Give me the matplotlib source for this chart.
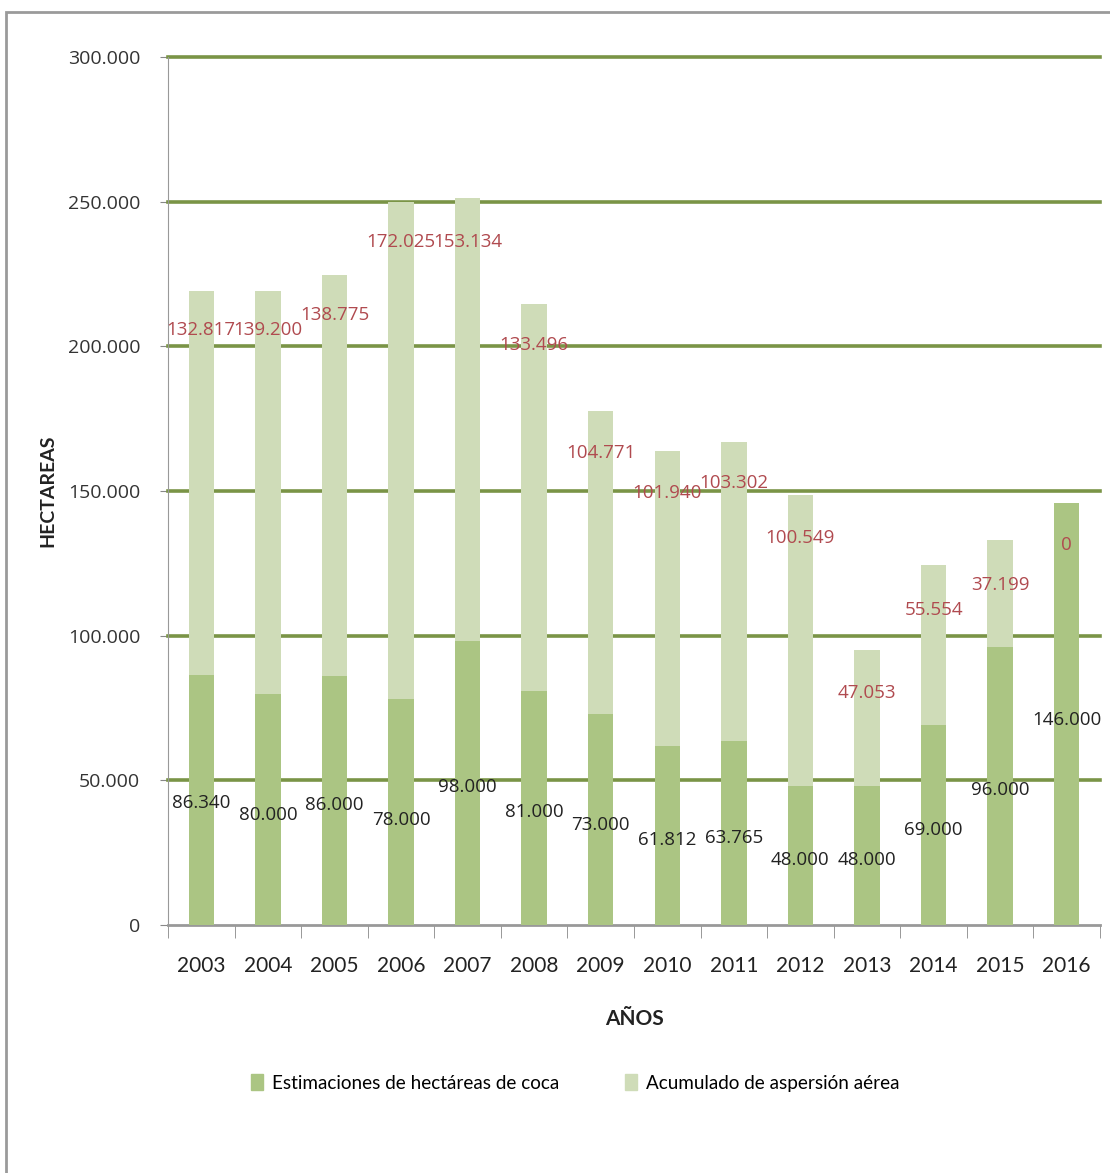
import matplotlib
matplotlib.use("Agg")
import matplotlib.pyplot as plt
from matplotlib.patches import Rectangle, Patch
import numpy as np

years = ['2003', '2004', '2005', '2006', '2007', '2008', '2009',
         '2010', '2011', '2012', '2013', '2014', '2015', '2016']
coca = [86340, 80000, 86000, 78000, 98000, 81000, 73000,
        61812, 63765, 48000, 48000, 69000, 96000, 146000]
aspersion = [132817, 139200, 138775, 172025, 153134, 133496, 104771,
             101940, 103302, 100549, 47053, 55554, 37199, 0]
coca_text = ['86.340', '80.000', '86.000', '78.000', '98.000', '81.000', '73.000',
             '61.812', '63.765', '48.000', '48.000', '69.000', '96.000', '146.000']
asp_text = ['132.817', '139.200', '138.775', '172.025', '153.134', '133.496', '104.771',
            '101.940', '103.302', '100.549', '47.053', '55.554', '37.199', '0']

# where the (hand moved) labels sit, in data units
coca_label_y = [42000, 38000, 41500, 36300, 47700, 39000, 34600,
                29400, 30000, 22500, 22500, 32800, 46700, 70900]
asp_label_y = [205700, 205700, 210900, 236000, 236000, 200500, 163000,
               149300, 152800, 133800, 80200, 108900, 117500, 131300]

dark = '#abc583'
light = '#cfdcb8'
grid_col = '#7a9446'
narrow = 'Lato'

fig = plt.figure(figsize=(11.1, 11.73), dpi=100)
fig.patches.append(Rectangle((6 / 1110, -0.1), 1.2, 1.1 - 12 / 1173,
                             transform=fig.transFigure, fill=False,
                             edgecolor='#9a9a9a', linewidth=2))

ax = fig.add_axes([168 / 1110, 1 - 925 / 1173, 932 / 1110, 868 / 1173])
x = np.arange(len(years))
w = 0.38
ax.bar(x, coca, w, color=dark, zorder=3, label='Estimaciones de hectáreas de coca')
ax.bar(x, aspersion, w, bottom=coca, color=light, zorder=3,
       label='Acumulado de aspersión aérea')

ax.set_xlim(-0.5, len(years) - 0.5)
ax.set_ylim(0, 300000)
ax.set_yticks(np.arange(0, 300001, 50000))
ax.set_yticklabels(['0', '50.000', '100.000', '150.000', '200.000', '250.000', '300.000'],
                   fontsize=14, color='#333333', family='Open Sans')
for v in range(50000, 300001, 50000):
    ax.axhline(v, color=grid_col, lw=2.6, zorder=2, clip_on=False)

ax.set_xticks(x)
ax.set_xticklabels(years, fontsize=15, color='#222222', family=narrow)
ax.set_xticks(np.arange(-0.5, len(years)), minor=True)
ax.tick_params(axis='x', which='major', length=0, pad=22)
ax.tick_params(axis='x', which='minor', length=9, color='#888888', direction='out')
ax.tick_params(axis='y', length=6, color='#888888', pad=14)

for s in ['top', 'right']:
    ax.spines[s].set_visible(False)
ax.spines['left'].set_color('#999999')
ax.spines['bottom'].set_color('#999999')
ax.spines['bottom'].set_linewidth(2)

for i in range(len(years)):
    ax.text(x[i], coca_label_y[i], coca_text[i], ha='center', va='center',
            fontsize=13.5, color='#222222', family='Open Sans', zorder=5)
    ax.text(x[i], asp_label_y[i], asp_text[i], ha='center', va='center',
            fontsize=13.5, color='#b04a4f', family='Open Sans', zorder=5)

ax.set_ylabel('HECTAREAS', fontsize=14, fontweight='bold', color='#222222',
              family=narrow, labelpad=8)
ax.set_xlabel('AÑOS', fontsize=15, fontweight='bold', color='#222222',
              family=narrow, labelpad=24)

handles = [Patch(color=dark), Patch(color=light)]
fig.legend(handles, ['Estimaciones de hectáreas de coca', 'Acumulado de aspersión aérea'],
           loc='center', bbox_to_anchor=(575 / 1110, 1 - 1083 / 1173), ncol=2,
           frameon=False, handlelength=0.65, handleheight=0.9, handletextpad=0.45,
           columnspacing=3.5, prop={'family': narrow, 'size': 13.6})

fig.savefig('out.png', dpi=100)
